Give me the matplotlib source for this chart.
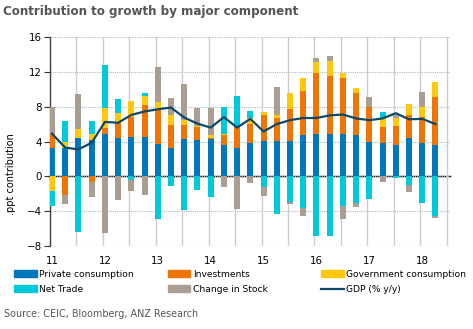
import matplotlib
matplotlib.use("Agg")
import matplotlib.pyplot as plt
import numpy as np
from matplotlib.patches import Patch
from matplotlib.lines import Line2D

# Quarterly contributions, 2011Q1 - 2018Q2 (ppt)
years = ["11", "12", "13", "14", "15", "16", "17", "18"]
private = [3.2, 3.3, 4.4, 4.2, 4.9, 4.4, 4.5, 4.5, 3.75, 3.3,
           4.25, 4.2, 4.25, 3.65, 3.3, 3.8, 4.05, 4.05, 4.05, 4.75,
           4.85, 4.85, 4.85, 4.75, 4.0, 3.8, 3.55, 4.45, 3.85, 3.6]
invest = [1.65, -2.1, 0.0, -0.65, 0.6, 1.7, 2.35, 3.7, 4.0, 2.6,
          1.7, 1.5, 0.1, 1.05, 2.4, 2.2, 3.05, 2.65, 3.7, 5.05,
          7.0, 6.7, 6.45, 4.85, 4.0, 1.9, 2.25, 2.6, 2.95, 5.55]
govt = [-1.7, 0.6, 1.0, 0.7, 2.35, 1.2, 1.8, 1.05, 0.75, 1.15,
        0.55, 0.05, 0.35, 0.2, 0.0, 0.75, 0.25, 0.3, 1.8, 1.5,
        1.3, 1.7, 0.6, 0.6, 0.0, 1.05, 0.9, 1.25, 1.2, 1.65]
net_trade = [-1.7, 2.45, -6.4, 1.4, 4.95, 1.6, -0.4, 0.35, -4.85, -1.1,
             -3.85, -1.6, -2.35, 3.05, 3.55, 0.7, -1.2, -4.35, -2.95, -3.6,
             -6.8, -6.8, -3.4, -3.1, -2.65, 0.6, -0.15, -1.05, -3.1, -4.55]
stock = [3.1, -1.1, 4.05, -1.75, -6.5, -2.7, -1.25, -2.2, 4.0, 1.9,
         4.1, 2.05, 3.2, -1.2, -3.7, -0.8, -1.05, 3.3, -0.25, -0.95,
         0.4, 0.6, -1.45, -0.45, 1.1, -0.65, 0.3, -0.8, 1.7, -0.25]
gdp = [4.9, 3.3, 3.1, 3.85, 6.25, 6.15, 7.05, 7.45, 7.7, 7.9,
       6.75, 6.05, 5.6, 6.8, 5.6, 6.6, 5.15, 6.0, 6.45, 6.7,
       6.7, 7.0, 7.1, 6.65, 6.45, 6.65, 7.25, 6.55, 6.6, 6.0]

series = [
    ("Private consumption", private, "#0077BA"),
    ("Investments", invest, "#EE7404"),
    ("Government consumption", govt, "#FFC80B"),
    ("Net Trade", net_trade, "#00C9DC"),
    ("Change in Stock", stock, "#AA9E92"),
]
gdp_color = "#0E4867"

plt.rcParams["font.family"] = "DejaVu Sans"

fig = plt.figure(figsize=(4.73, 3.29), dpi=100)
ax = fig.add_axes([50 / 473, 1 - 246 / 329, 400 / 473, 209 / 329])

x = np.arange(len(private))
pos_bottom = np.zeros(len(x))
neg_bottom = np.zeros(len(x))
for name, vals, col in series:
    v = np.array(vals)
    pos = np.where(v > 0, v, 0)
    neg = np.where(v < 0, v, 0)
    ax.bar(x, pos, 0.46, bottom=pos_bottom, color=col, zorder=3)
    ax.bar(x, neg, 0.46, bottom=neg_bottom, color=col, zorder=3)
    pos_bottom += pos
    neg_bottom += neg

ax.plot(x, gdp, color=gdp_color, lw=1.6, zorder=4, solid_joinstyle="round")

# axes styling
ax.set_ylim(-8, 16)
ax.set_xlim(-0.15, 30.1)
ax.set_yticks(np.arange(-8, 17, 4))
ax.set_xticks(x[::4])
ax.set_xticklabels(years)
ax.tick_params(axis="x", length=0, pad=7, labelsize=7.4)
ax.tick_params(axis="y", direction="out", length=4, width=0.8,
               color="#333333", labelsize=7.4, pad=2)
for s in ["top", "right", "bottom"]:
    ax.spines[s].set_visible(False)
ax.spines["left"].set_color("#444444")
ax.spines["left"].set_linewidth(1.0)

for yv in np.arange(-8, 17, 4):
    ax.axhline(yv, color="#A9BCC8", lw=0.8, ls=(0, (1, 1)), zorder=1)
for xv in np.arange(-0.15, 30, 2):
    ax.axvline(xv, color="#CCCCCC", lw=1.0, zorder=1)

# zero line with year ticks
zero = ax.secondary_xaxis(8 / 24)
zero.set_xticks(x[::4] - 0.15)
zero.set_xticklabels([])
zero.tick_params(direction="out", length=3, width=0.8, color="black")
zero.spines["bottom"].set_color("black")
zero.spines["bottom"].set_linewidth(1.0)
zero.spines["bottom"].set_zorder(5)

ax.set_ylabel(".ppt contribution", fontsize=7)
ax.yaxis.set_label_coords(-0.085, 0.344)

fig.text(3 / 473, 1 - 11 / 329, "Contribution to growth by major component",
         fontsize=8.6, fontweight="bold", color="#555555", va="center")
fig.text(4 / 473, 1 - 314 / 329, "Source: CEIC, Bloomberg, ANZ Research",
         fontsize=6.9, color="#555555", va="center")

handles = [Patch(color=c, label=n) for n, _, c in series]
handles.append(Line2D([], [], color=gdp_color, lw=1.6, label="GDP (% y/y)"))
order = [[handles[0], handles[3]], [handles[1], handles[4]], [handles[2], handles[5]]]
for i, hs in enumerate(order):
    fig.legend(handles=hs, loc="upper left",
               bbox_to_anchor=((14 + 153.5 * i) / 473, 1 - 270 / 329),
               frameon=False, fontsize=6.6, handlelength=2.5, handleheight=0.75,
               handletextpad=0.25, labelspacing=0.65, borderpad=0,
               borderaxespad=0)

fig.savefig("out.png", dpi=100)
